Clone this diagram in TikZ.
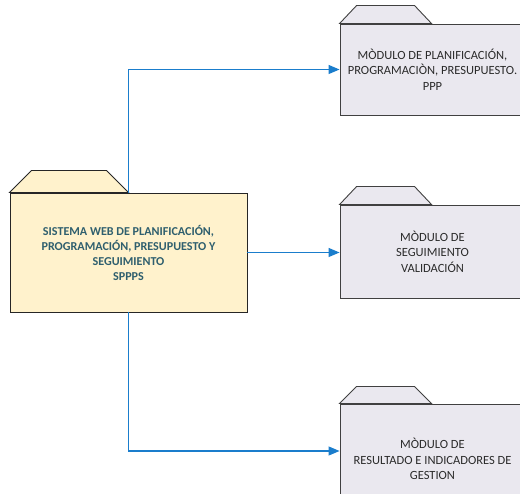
\documentclass[tikz,border=0pt]{standalone}
\usepackage{fontspec}
\setmainfont{Carlito}
\usetikzlibrary{arrows.meta}
\definecolor{mainfill}{HTML}{FFF2CC}
\definecolor{modfill}{HTML}{EAE8EF}
\definecolor{maintext}{HTML}{2F5F6E}
\definecolor{modtext}{HTML}{2B2B2B}
\definecolor{conncol}{HTML}{1A7DCC}
\tikzset{
  mainbox/.style={draw=black!85, line width=0.9pt, fill=mainfill, inner sep=0pt, align=center,
    text=maintext, font=\fontsize{12.1}{15}\selectfont\bfseries},
  modbox/.style={draw=black!75, line width=0.9pt, fill=modfill, inner sep=0pt, align=center,
    text=modtext, font=\fontsize{12.5}{15.5}\selectfont, minimum width=185pt},
  tabmain/.style={draw=black!85, line width=0.9pt, fill=mainfill},
  tabmod/.style={draw=black!75, line width=0.9pt, fill=modfill},
  conn/.style={draw=conncol, line width=1.1pt, -{Triangle[length=11pt,width=9pt]}},
}
\begin{document}
\begin{tikzpicture}[x=1pt,y=-1pt]
\useasboundingbox (0,0) rectangle (520,494);
% main
\node[mainbox, minimum width=237pt, minimum height=119pt] (sys) at (128.5,252.5)
  {SISTEMA WEB DE PLANIFICACIÓN,\\PROGRAMACIÓN, PRESUPUESTO Y\\SEGUIMIENTO\\SPPPS};
\filldraw[tabmain] (sys.north west) -- ++(22,-22) -- ++(75,0) -- (sys.north) -- cycle;
% modules
\node[modbox, minimum height=91pt] (m1) at (432.5,69.5)
  {MÒDULO DE PLANIFICACIÓN,\\PROGRAMACIÒN, PRESUPUESTO.\\PPP};
\filldraw[tabmod] (m1.north west) -- ++(17,-18) -- ++(58,0) -- ++(17,18) -- cycle;
\node[modbox, minimum height=93pt] (m2) at (432.5,251.5)
  {MÒDULO DE\\SEGUIMIENTO\\VALIDACIÓN};
\filldraw[tabmod] (m2.north west) -- ++(17,-18) -- ++(58,0) -- ++(17,18) -- cycle;
\node[modbox, minimum height=110pt] (m3) at (432.5,459)
  {MÒDULO DE\\RESULTADO E INDICADORES DE\\GESTION};
\filldraw[tabmod] (m3.north west) -- ++(17,-17) -- ++(58,0) -- ++(17,17) -- cycle;
% connectors
\draw[conn] (sys.north) |- (m1.west);
\draw[conn] (sys.east) -- (sys.east -| m2.west);
\draw[conn] (sys.south) |- ([yshift=8pt]m3.west);
\end{tikzpicture}
\end{document}
